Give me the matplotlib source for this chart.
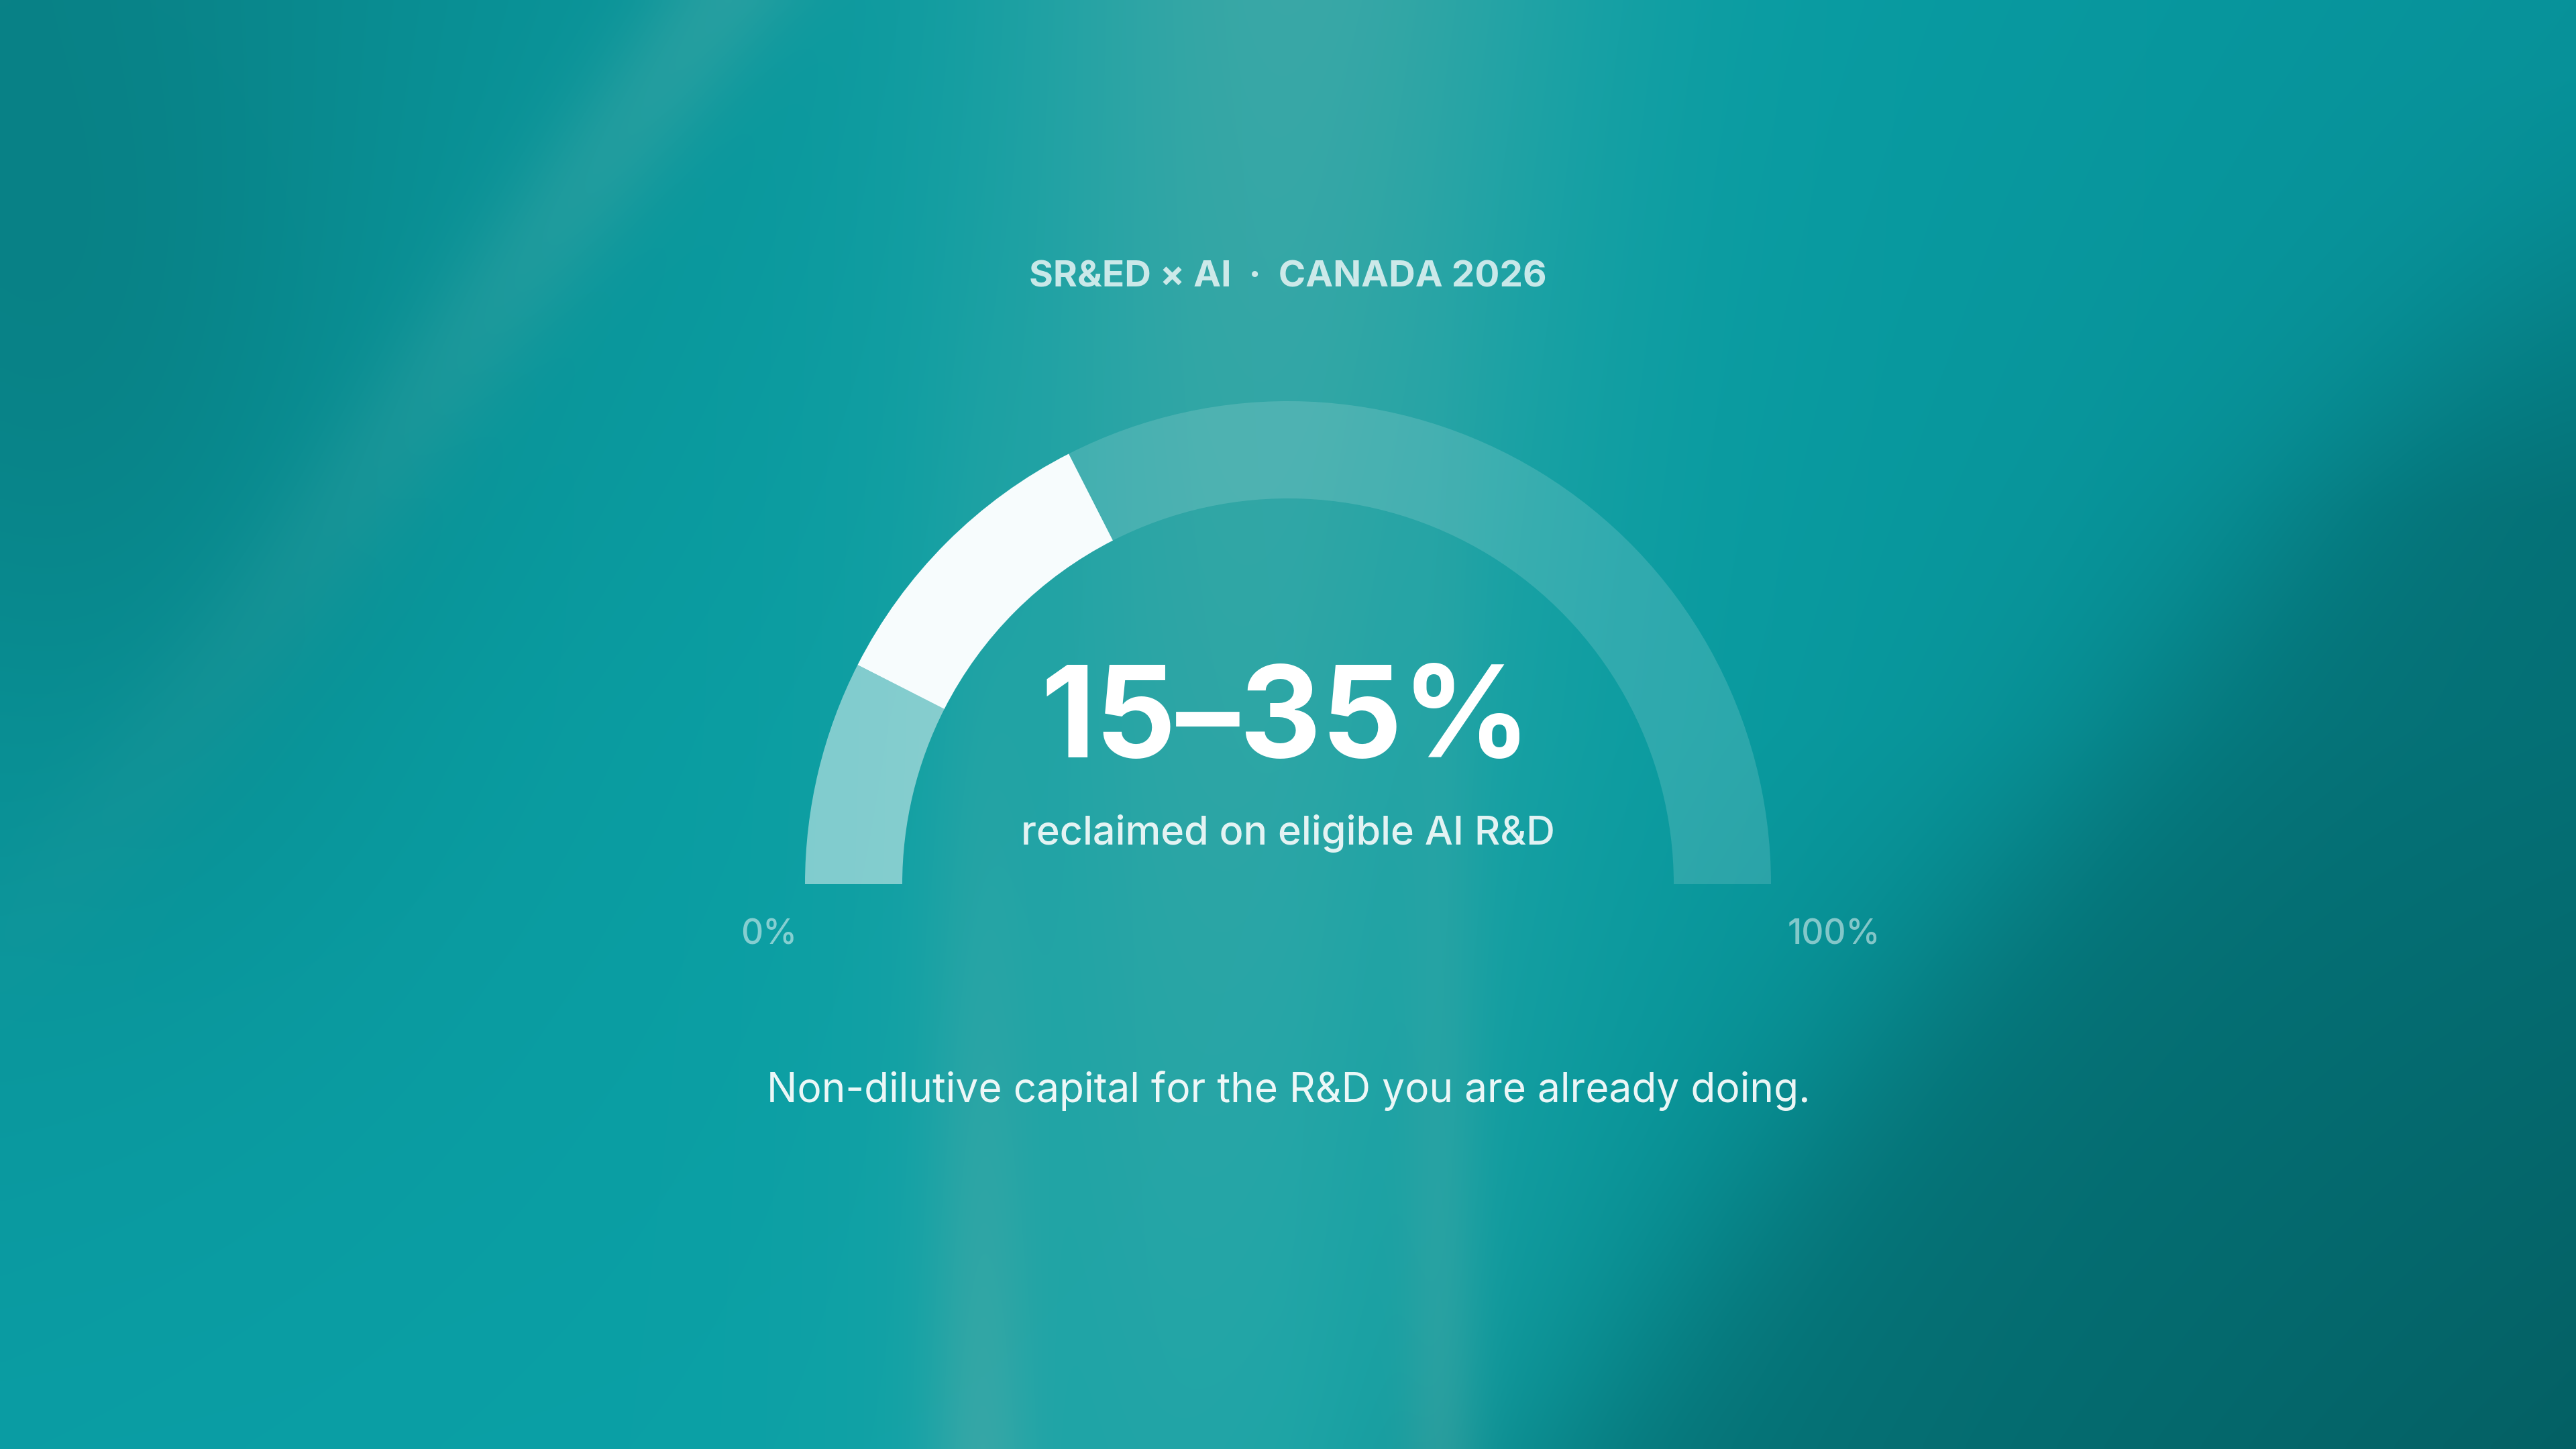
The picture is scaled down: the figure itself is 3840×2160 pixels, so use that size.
import numpy as np
import matplotlib
matplotlib.use('Agg')
import matplotlib.pyplot as plt
from matplotlib.patches import Wedge
from matplotlib.colors import to_rgb

plt.rcParams['font.family'] = ['Inter', 'DejaVu Sans']

# gauge data (percent of eligible AI R&D reclaimed)
gauge_min = 0
gauge_max = 100
range_low = 15
range_high = 35
segment_edges = [gauge_min, range_low, range_high, gauge_max]

title = 'SR&ED × AI  ·  CANADA 2026'
headline = f'{range_low}–{range_high}%'
subtitle = 'reclaimed on eligible AI R&D'
tick_labels = [f'{gauge_min}%', f'{gauge_max}%']
footer = 'Non-dilutive capital for the R&D you are already doing.'

W, H = 3840, 2160
fig = plt.figure(figsize=(W / 100, H / 100), dpi=100)
ax = fig.add_axes([0, 0, 1, 1])
ax.set_xlim(0, W)
ax.set_ylim(0, H)
ax.axis('off')

# ---- background: soft teal gradient with light streaks ----
gh, gw = 216, 384
yy, xx = np.mgrid[0:gh, 0:gw]
u = xx / (gw - 1)
v = yy / (gh - 1)

grid = [['#0A888D', '#0AA2A7', '#07929A'],
        ['#0A979C', '#0AA2A6', '#078B92'],
        ['#0B9DA4', '#0AA3A7', '#05686C']]
grid = np.array([[to_rgb(c) for c in row] for row in grid])
knots = [0, 0.5, 1]
rows = np.zeros((3, gw, 3))
for r in range(3):
    for ch in range(3):
        rows[r, :, ch] = np.interp(u[0], knots, grid[r, :, ch])
img = np.zeros((gh, gw, 3))
for ch in range(3):
    for i in range(gw):
        img[:, i, ch] = np.interp(v[:, 0], knots, rows[:, i, ch])

light = np.array(to_rgb('#45A9A6'))
w = 0.8 * np.exp(-((u - 0.5 + 0.04 * v) / 0.11) ** 2) * (1 - 0.5 * v)
w += 0.45 * np.exp(-((u - (0.28 - 0.42 * v)) / 0.03) ** 2) * np.clip(1 - v / 0.75, 0, 1)
w += 0.5 * np.exp(-((u - 0.38) / 0.02) ** 2) * v ** 2
w += 0.4 * np.exp(-((u - 0.56) / 0.015) ** 2) * v ** 2
w = np.clip(w, 0, 0.9)[..., None]
img = img * (1 - w) + light * w

dark = np.array(to_rgb('#035A5E'))
edge = 1.0 - 0.39 * np.clip((v - 0.12) / 0.88, 0, 1)
d = 0.55 / (1 + np.exp(-(u - edge) / 0.03)) * np.clip((v - 0.05) / 0.3, 0, 1)
d += 0.25 * np.exp(-((u - 0.03) / 0.12) ** 2 - ((v - 0.25) / 0.35) ** 2)
d = np.clip(d, 0, 0.8)[..., None]
img = img * (1 - d) + dark * d

ax.imshow(img, extent=[0, W, 0, H], origin='upper', interpolation='bicubic',
          aspect='auto', zorder=0)

# ---- gauge ----
cx, cy = 1920, 2160 - 1318
r_out, band = 720, 145
seg_colors = [(1, 1, 1, 0.48), '#F7FCFD', (1, 1, 1, 0.14)]
for v0, v1, col in zip(segment_edges[:-1], segment_edges[1:], seg_colors):
    t1 = 180 - 180 * (v1 - gauge_min) / (gauge_max - gauge_min)
    t2 = 180 - 180 * (v0 - gauge_min) / (gauge_max - gauge_min)
    ax.add_patch(Wedge((cx, cy), r_out, t1, t2, width=band, facecolor=col,
                       edgecolor='none', zorder=2))

# ---- text ----
ax.text(1920, H - 428, title, ha='center', va='baseline', fontsize=39.5,
        fontweight='bold', color=(1, 1, 1, 0.76), zorder=3)
ax.text(1917, H - 1129, headline, ha='center', va='baseline', fontsize=136,
        fontweight='bold', color='white', zorder=3)
ax.text(1920, H - 1259, subtitle, ha='center', va='baseline', fontsize=42.8,
        fontweight='medium', color=(1, 1, 1, 0.88), zorder=3)
ax.text(1188, H - 1408, tick_labels[0], ha='right', va='baseline', fontsize=37,
        fontweight='medium', color=(1, 1, 1, 0.5), zorder=3)
ax.text(2665, H - 1408, tick_labels[1], ha='left', va='baseline', fontsize=37,
        fontweight='medium', color=(1, 1, 1, 0.5), zorder=3)
ax.text(1921, H - 1643, footer, ha='center', va='baseline', fontsize=43.5,
        fontweight='normal', color=(1, 1, 1, 0.92), zorder=3)

fig.savefig('out.png', dpi=100)
